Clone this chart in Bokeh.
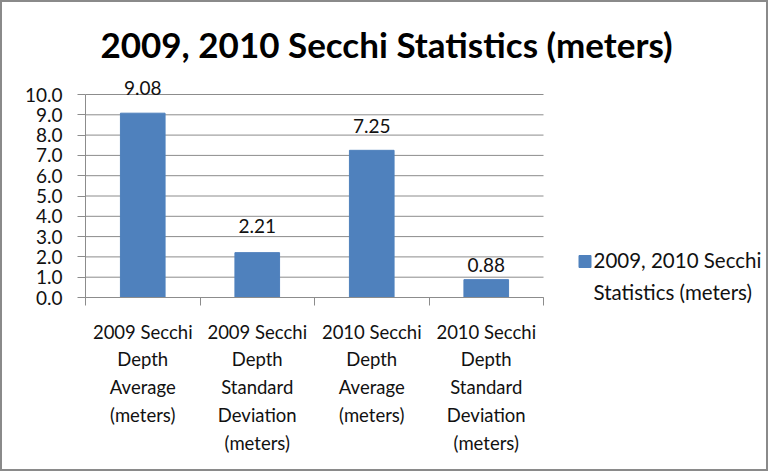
from bokeh.plotting import figure
from bokeh.models import (Range1d, FixedTicker, NumeralTickFormatter, Label,
                          ColumnDataSource, LabelSet)
from bokeh.core.properties import value
from bokeh.embed import file_html
from bokeh.resources import INLINE

categories = [
    "2009 Secchi\nDepth\nAverage\n(meters)",
    "2009 Secchi\nDepth\nStandard\nDeviation\n(meters)",
    "2010 Secchi\nDepth\nAverage\n(meters)",
    "2010 Secchi\nDepth\nStandard\nDeviation\n(meters)",
]
values = [9.08, 2.21, 7.25, 0.88]
value_labels = ["9.08", "2.21", "7.25", "0.88"]
y_ticks = [0, 1, 2, 3, 4, 5, 6, 7, 8, 9, 10]
series_name = "2009, 2010 Secchi\nStatistics (meters)"
title_text = "2009, 2010 Secchi Statistics (meters)"

# layout / style constants
label_offsets = [18, 20, 17, 8]
FONT = "Lato"
BLUE = "#4F81BD"
GRID = "#8c8c8c"
TXT = "#111111"
W, H = 768, 471
PX_X0, UNIT_X = 83, 114.5      # canvas x of category edge 0, px per category
PX_Y0, UNIT_Y = 295, 20.3      # canvas y (from top) of value 0, px per unit


def px2x(px):
    return (px - PX_X0) / UNIT_X


def px2y(py):
    return (PX_Y0 - py) / UNIT_Y


n = len(categories)
xs = [i + 0.5 for i in range(n)]
src = ColumnDataSource(dict(x=xs, top=values, lab=value_labels, off=label_offsets))

p = figure(width=W, height=H, output_backend="svg", toolbar_location=None,
           x_range=Range1d(px2x(0), px2x(W)), y_range=Range1d(px2y(H), px2y(0)),
           min_border_left=0, min_border_right=0, min_border_top=0,
           min_border_bottom=0)
p.styles = {"border": "2px solid #8a8a8a"}
p.outline_line_color = None
p.xgrid.visible = False
p.ygrid.visible = False

# horizontal gridlines limited to the category span
p.segment(x0=[0] * len(y_ticks), x1=[n] * len(y_ticks), y0=y_ticks, y1=y_ticks,
          line_color=GRID, line_width=1)

r = p.vbar(x="x", top="top", width=0.39, bottom=0, source=src,
           fill_color=BLUE, line_color=BLUE)

labels = LabelSet(x="x", y="top", text="lab", source=src, y_offset="off",
                  text_align="center", text_baseline="alphabetic",
                  text_font=value(FONT), text_font_size="19px", text_color=TXT)
p.add_layout(labels)

# y axis
p.yaxis.fixed_location = 0
p.yaxis.bounds = (0, y_ticks[-1])
p.yaxis.ticker = FixedTicker(ticks=y_ticks)
p.yaxis.formatter = NumeralTickFormatter(format="0.0")
p.yaxis.major_label_text_font = FONT
p.yaxis.major_label_text_font_size = "19px"
p.yaxis.major_label_text_color = TXT
p.yaxis.major_tick_in = 0
p.yaxis.major_tick_out = 8
p.yaxis.minor_tick_line_color = None
p.yaxis.axis_line_color = GRID
p.yaxis.major_tick_line_color = GRID
p.yaxis.major_label_standoff = 15

# x axis
p.xaxis.fixed_location = 0
p.xaxis.bounds = (0, n)
p.xaxis.ticker = FixedTicker(ticks=xs, minor_ticks=list(range(0, n + 1)))
p.xaxis.major_label_overrides = {x: c for x, c in zip(xs, categories)}
p.xaxis.major_tick_line_color = None
p.xaxis.minor_tick_in = 0
p.xaxis.minor_tick_out = 8
p.xaxis.minor_tick_line_color = GRID
p.xaxis.axis_line_color = GRID
p.xaxis.major_label_text_font = FONT
p.xaxis.major_label_text_font_size = "18.5px"
p.xaxis.major_label_text_color = TXT
p.xaxis.major_label_text_line_height = 1.27
p.xaxis.major_label_standoff = 15

# legend (swatch + wrapped series name), placed right of the plot area
p.scatter(x=[px2x(582.5)], y=[px2y(259)], marker="square", size=12,
          fill_color=BLUE, line_color=BLUE)
legend_text = Label(x=591, y=H - 273.5, x_units="screen", y_units="screen",
                    text=series_name, text_font=FONT, text_font_size="20.5px",
                    text_color=TXT, text_align="left", text_baseline="middle",
                    text_line_height=1.33)
p.add_layout(legend_text)

title = Label(x=384, y=H - 41, x_units="screen", y_units="screen", text=title_text,
              text_font=FONT, text_font_style="bold", text_font_size="35px",
              text_align="center", text_baseline="middle", text_color="#000000")
p.add_layout(title)

open("out.html", "w").write(file_html(p, INLINE))
